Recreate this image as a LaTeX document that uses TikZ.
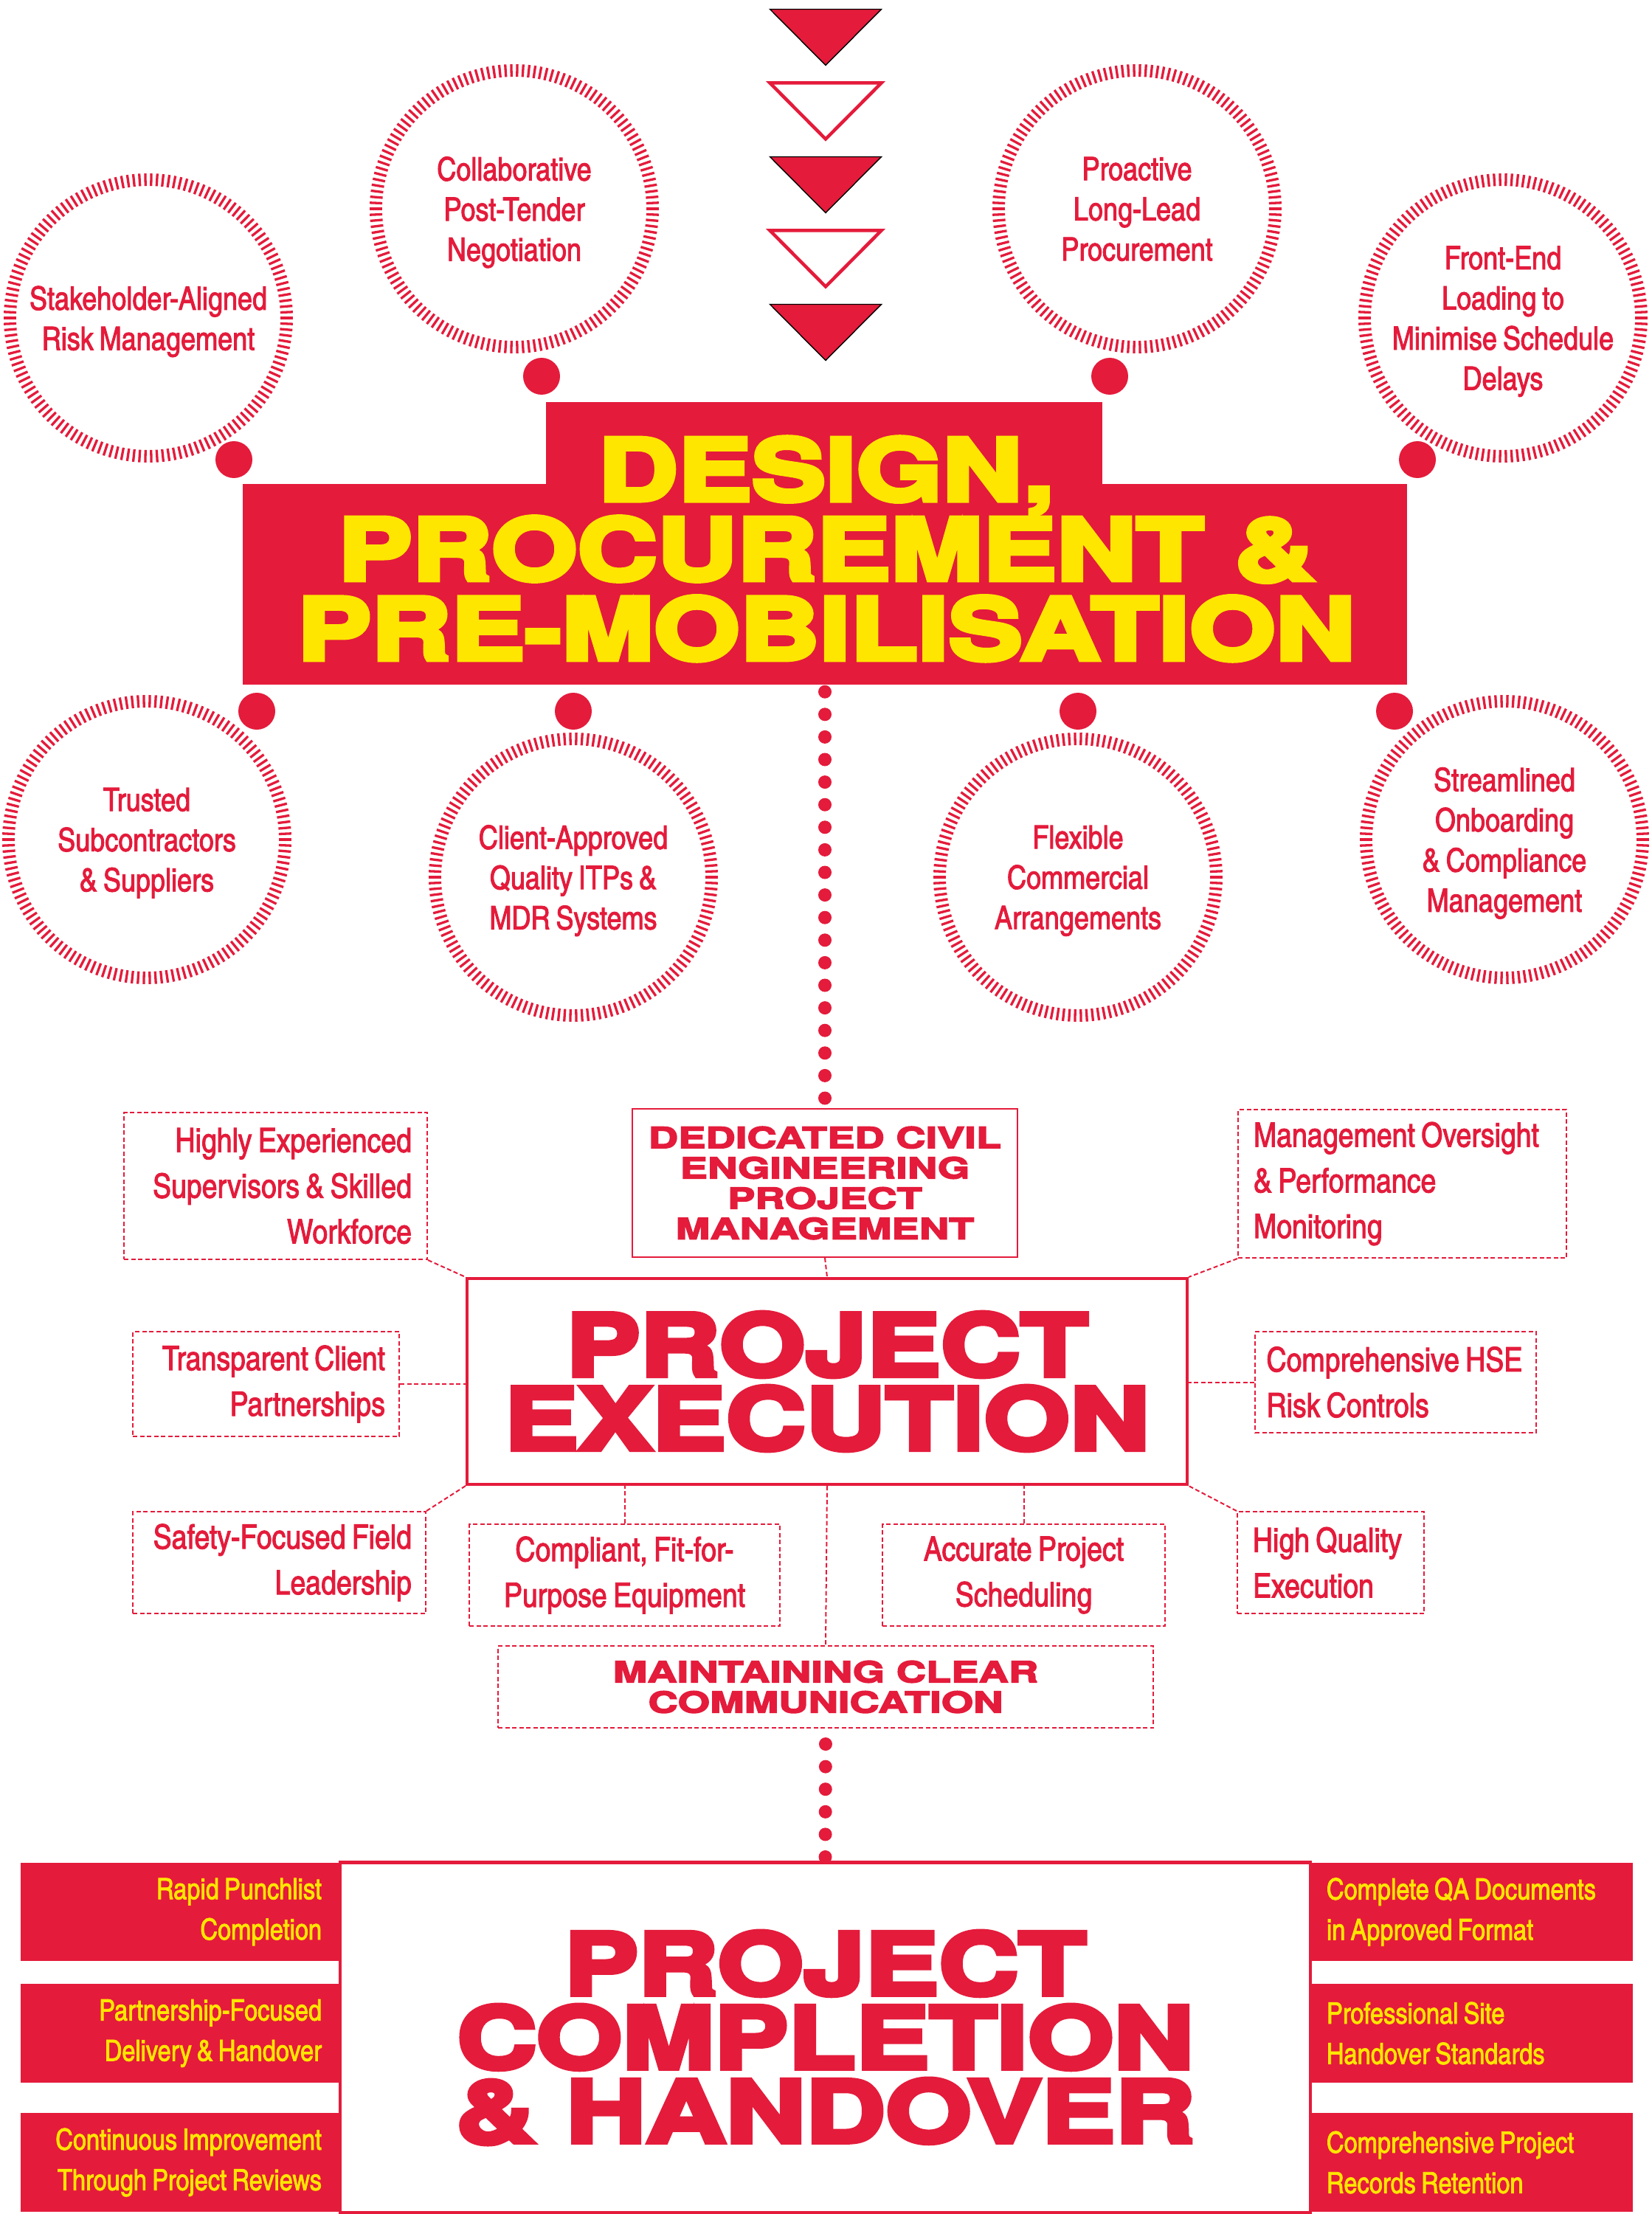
\documentclass[tikz,border=0pt]{standalone}
\usepackage{fontspec}
\newfontfamily\headfont{texgyreheros-bold.otf}[FakeStretch=1.3, FakeBold=6]
\newfontfamily\subheadfont{texgyreheros-bold.otf}[FakeStretch=1.42, FakeBold=4]
\newfontfamily\cnfont{texgyreheroscn-regular.otf}[FakeBold=2, WordSpace=0.8]
\hyphenpenalty=10000
\exhyphenpenalty=10000

\definecolor{brandred}{HTML}{E41B3B}
\definecolor{brandyellow}{HTML}{FFE600}

\tikzset{
    redblock/.style={fill=brandred, inner sep=0pt},
    bigtitle/.style={align=center, inner sep=0pt, font=\headfont\fontsize{32.8}{30.7}\selectfont},
    smalltitle/.style={align=center, inner sep=0pt, text=brandred, font=\subheadfont\fontsize{11.2}{11.7}\selectfont},
    ringlabel/.style={circle, minimum size=39.2mm, inner sep=0pt, align=center, text depth=0pt, text=brandred, font=\cnfont\fontsize{12.5}{15.5}\selectfont},
    ringtick/.style={draw=brandred, line width=0.33mm},
    knob/.style={circle, fill=brandred, minimum size=5mm, inner sep=0pt},
    trifill/.style={fill=brandred},
    trihollow/.style={draw=brandred, fill=white, line width=0.45mm},
    dashbox/.style={draw=brandred, line width=0.2mm, dash pattern=on 0.6mm off 0.35mm, text=brandred, inner ysep=0pt, font=\cnfont\fontsize{13}{17.6}\selectfont},
    link/.style={draw=brandred, line width=0.2mm, dash pattern=on 0.6mm off 0.35mm},
    dotline/.style={draw=brandred, line width=1.8mm, line cap=round, dash pattern=on 0pt off 3.06mm},
    sidebox/.style={fill=brandred, text=brandyellow, minimum height=13.35mm, inner ysep=0pt, font=\cnfont\fontsize{11.3}{15.6}\selectfont},
}

\begin{document}
\begin{tikzpicture}[x=1mm, y=-1mm]
    \useasboundingbox (0,0) rectangle (223.8,300.1);

    % Arrow triangles
    \foreach \i/\kind in {0/trifill, 1/trihollow, 2/trifill, 3/trihollow, 4/trifill}
    \draw[\kind] (104.35,1.25+10*\i) -- ++(15.1,0) -- ++(-7.55,7.6) -- cycle;

    % Design block
    \node[redblock, minimum width=75.4mm, minimum height=11.6mm] (dpmtab) at (111.7,60.3) {};
    \node[redblock, minimum width=157.8mm, minimum height=27.2mm] (dpm) at (111.8,79.2) {};
    \node[bigtitle, text=brandyellow] (dpmtitle) at (112.0,74.4) {DESIGN,\\PROCUREMENT \&\\PRE-MOBILISATION};

    % Rings
    \node[ringlabel] (ring1) at (20.1,43.1) {Stakeholder-Aligned\\Risk Management};
    \node[ringlabel] (ring2) at (69.7,28.3) {Collaborative\\Post-Tender\\Negotiation};
    \node[ringlabel] (ring3) at (154.1,28.3) {Proactive\\Long-Lead\\Procurement};
    \node[ringlabel] (ring4) at (203.7,43.1) {Front-End\\Loading to\\Minimise Schedule\\Delays};
    \node[ringlabel] (ring5) at (19.9,113.8) {Trusted\\Subcontractors\\\& Suppliers};
    \node[ringlabel] (ring6) at (77.7,118.9) {Client-Approved\\Quality ITPs \&\\MDR Systems};
    \node[ringlabel] (ring7) at (146.1,118.9) {Flexible\\Commercial\\Arrangements};
    \node[ringlabel] (ring8) at (203.9,113.8) {Streamlined\\Onboarding\\\& Compliance\\Management};
    \foreach \c in {1,...,8}
    \foreach \a in {0,2.4,...,357.6}
    \draw[ringtick] (ring\c.center) ++(\a:17.9) -- ++(\a:1.7);

    % Knobs
    \node[knob] (knob1) at (31.7,62.3) {};
    \node[knob] (knob2) at (73.4,51.0) {};
    \node[knob] (knob3) at (150.4,51.0) {};
    \node[knob] (knob4) at (192.1,62.3) {};
    \node[knob] (knob5) at (34.8,96.4) {};
    \node[knob] (knob6) at (77.7,96.4) {};
    \node[knob] (knob7) at (146.1,96.4) {};
    \node[knob] (knob8) at (189.0,96.4) {};

    % Project execution
    \node[draw=brandred, line width=0.4mm, minimum width=97.6mm, minimum height=27.9mm, bigtitle, text=brandred, font=\headfont\fontsize{32.8}{28.45}\selectfont] (exec) at (112.1,187.25) {PROJECT\\EXECUTION};
    \node[draw=brandred, line width=0.2mm, minimum width=52.2mm, minimum height=20.1mm, smalltitle] (ded) at (111.8,160.35) {DEDICATED CIVIL\\ENGINEERING\\PROJECT\\MANAGEMENT};
    \node[dashbox, minimum width=88.8mm, minimum height=11.1mm, smalltitle] (comm) at (111.9,228.65) {MAINTAINING CLEAR\\COMMUNICATION};

    \node[dashbox, text width=36.9mm, inner xsep=2.1mm, minimum height=19.9mm, align=flush right] (hexp) at (37.35,160.75) {Highly Experienced\\Supervisors \& Skilled\\Workforce};
    \node[dashbox, text width=32.3mm, inner xsep=1.9mm, minimum height=14.2mm, align=flush right] (tcp) at (36.05,187.6) {Transparent Client\\Partnerships};
    \node[dashbox, text width=35.9mm, inner xsep=1.9mm, minimum height=13.8mm, align=flush right] (sff) at (37.85,211.8) {Safety-Focused Field\\Leadership};
    \node[dashbox, minimum width=42.1mm, minimum height=13.8mm, align=flush center] (cfp) at (84.65,213.5) {Compliant, Fit-for-\\Purpose Equipment};
    \node[dashbox, minimum width=38.3mm, minimum height=13.8mm, align=flush center] (aps) at (138.75,213.5) {Accurate Project\\Scheduling};
    \node[dashbox, text width=40.3mm, inner xsep=2.1mm, minimum height=20.1mm, align=flush left] (mgmt) at (190.05,160.45) {Management Oversight\\\& Performance\\Monitoring};
    \node[dashbox, text width=35.0mm, inner xsep=1.55mm, minimum height=13.7mm, align=flush left] (hse) at (189.15,187.35) {Comprehensive HSE\\Risk Controls};
    \node[dashbox, text width=21.1mm, inner xsep=2.1mm, minimum height=13.8mm, align=flush left] (hqe) at (180.35,211.8) {High Quality\\Execution};

    % Links
    \draw[link] (hexp.south east) -- (exec.north west);
    \draw[link] (tcp.east) -- (tcp.east -| exec.west);
    \draw[link] (sff.north east) -- (exec.south west);
    \draw[link] (cfp.north) -- (cfp.north |- exec.south);
    \draw[link] (aps.north) -- (aps.north |- exec.south);
    \draw[link] (exec.south) -- (comm.north);
    \draw[link] (ded.south) -- (exec.north);
    \draw[link] (mgmt.south west) -- (exec.north east);
    \draw[link] (hse.west) -- (hse.west -| exec.east);
    \draw[link] (hqe.north west) -- (exec.south east);

    % Completion
    \node[draw=brandred, line width=0.45mm, minimum width=131.5mm, minimum height=47.5mm, bigtitle, text=brandred, font=\headfont\fontsize{32.8}{28.45}\selectfont] (done) at (111.85,276.2) {PROJECT\\COMPLETION\\\& HANDOVER};
    \node[sidebox, text width=38.1mm, inner xsep=2.7mm, align=flush right] (rpc) at (24.55,259.15) {Rapid Punchlist\\Completion};
    \node[sidebox, text width=38.1mm, inner xsep=2.7mm, align=flush right] (pfd) at (24.55,275.6) {Partnership-Focused\\Delivery \& Handover};
    \node[sidebox, text width=38.1mm, inner xsep=2.7mm, align=flush right] (cip) at (24.55,293.1) {Continuous Improvement\\Through Project Reviews};
    \node[sidebox, text width=39.4mm, inner xsep=2.1mm, align=flush left] (cqa) at (199.5,259.15) {Complete QA Documents\\in Approved Format};
    \node[sidebox, text width=39.4mm, inner xsep=2.1mm, align=flush left] (pss) at (199.5,275.6) {Professional Site\\Handover Standards};
    \node[sidebox, text width=39.4mm, inner xsep=2.1mm, align=flush left] (cpr) at (199.5,293.1) {Comprehensive Project\\Records Retention};

    % Dotted spine
    \draw[dotline, dash phase=2.16mm] (dpm.south) -- (ded.north);
    \draw[dotline, dash phase=0.96mm] (comm.south) -- (done.north);
\end{tikzpicture}
\end{document}
